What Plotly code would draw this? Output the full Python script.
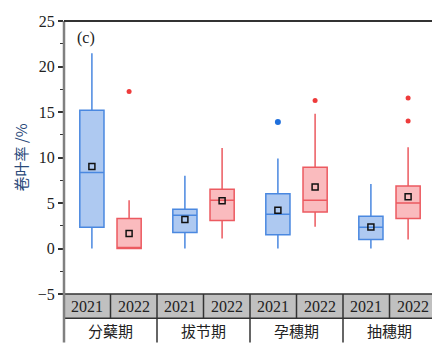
import plotly.graph_objects as go

stages = ["分蘖期", "拔节期", "孕穗期", "抽穗期"]
years = ["2021", "2022"]

# box statistics per stage (order follows stages)
q1_2021 = [2.33, 1.76, 1.52, 0.98]
med_2021 = [8.35, 3.65, 3.76, 2.33]
q3_2021 = [15.2, 4.3, 6.03, 3.55]
lo_2021 = [0.0, 0.0, 0.0, 0.0]
hi_2021 = [21.45, 8.0, 9.88, 7.1]
mean_2021 = [9.0, 3.2, 4.19, 2.37]

q1_2022 = [0.0, 3.08, 4.0, 3.3]
med_2022 = [0.0, 5.29, 5.3, 5.0]
q3_2022 = [3.3, 6.5, 8.92, 6.86]
lo_2022 = [0.0, 1.09, 2.4, 0.98]
hi_2022 = [5.3, 11.05, 14.8, 11.13]
mean_2022 = [1.65, 5.25, 6.75, 5.68]

out_2021_x = [2]
out_2021_y = [13.9]
out_2022_x = [0, 2, 3, 3]
out_2022_y = [17.25, 16.26, 16.54, 14.0]

OFF = 0.2
BW = 0.26

blue_fill = "rgba(120,165,232,0.6)"
blue_line = "#4a88e0"
red_fill = "rgba(248,150,155,0.65)"
red_line = "#ec5a60"

fig = go.Figure()

x21 = [i - OFF for i in range(len(stages))]
x22 = [i + OFF for i in range(len(stages))]

fig.add_trace(go.Box(x=x21, q1=q1_2021, median=med_2021, q3=q3_2021,
                     lowerfence=lo_2021, upperfence=hi_2021,
                     width=BW, whiskerwidth=0, boxpoints=False,
                     fillcolor=blue_fill, line=dict(color=blue_line, width=1.5),
                     showlegend=False, hoverinfo="skip"))
fig.add_trace(go.Box(x=x22, q1=q1_2022, median=med_2022, q3=q3_2022,
                     lowerfence=lo_2022, upperfence=hi_2022,
                     width=BW, whiskerwidth=0, boxpoints=False,
                     fillcolor=red_fill, line=dict(color=red_line, width=1.5),
                     showlegend=False, hoverinfo="skip"))

fig.add_trace(go.Scatter(x=[x - OFF for x in out_2021_x], y=out_2021_y, mode="markers",
                         marker=dict(color="#1f6fdc", size=6, symbol="circle"),
                         showlegend=False))
fig.add_trace(go.Scatter(x=[x + OFF for x in out_2022_x], y=out_2022_y, mode="markers",
                         marker=dict(color="#ee3b3b", size=5, symbol="circle"),
                         showlegend=False))

fig.add_trace(go.Scatter(x=x21 + x22, y=mean_2021 + mean_2022, mode="markers",
                         marker=dict(color="#111", size=6, symbol="square-open",
                                     line=dict(color="#111", width=1.5)),
                         showlegend=False))

PH = 281.0
band = 25.0 / PH
row2 = 50.0 / PH

shapes = []
shapes.append(dict(type="rect", xref="paper", yref="paper", x0=0, x1=1, y0=-band, y1=0,
                   fillcolor="#c0c0c0", line=dict(color="#333", width=1.5), layer="below"))
for k in range(1, 8):
    shapes.append(dict(type="line", xref="paper", yref="paper", x0=k / 8, x1=k / 8,
                       y0=-band, y1=0, line=dict(color="#333", width=1.5)))
for k in range(1, 4):
    shapes.append(dict(type="line", xref="paper", yref="paper", x0=k / 4, x1=k / 4,
                       y0=-row2, y1=-band, line=dict(color="#333", width=1.5)))
shapes.append(dict(type="line", xref="paper", yref="paper", x0=0, x1=0, y0=-row2, y1=1,
                   line=dict(color="#808080", width=2.5)))
shapes.append(dict(type="line", xref="paper", yref="paper", x0=1, x1=1, y0=-row2, y1=1,
                   line=dict(color="#333", width=1.5)))
shapes.append(dict(type="line", xref="paper", yref="paper", x0=0, x1=1, y0=1, y1=1,
                   line=dict(color="#333", width=2)))

annotations = []
for g, st in enumerate(stages):
    for j, yr in enumerate(years):
        annotations.append(dict(xref="paper", yref="paper", x=(2 * g + j + 0.5) / 8, y=-band / 2,
                                text=yr, showarrow=False, xanchor="center", yanchor="middle",
                                font=dict(family="Liberation Serif, DejaVu Serif, serif", size=16, color="#222")))
    annotations.append(dict(xref="paper", yref="paper", x=(g + 0.5) / 4, y=-(band + row2) / 2,
                            text=st, showarrow=False, xanchor="center", yanchor="middle",
                            font=dict(family="Noto Sans CJK SC", size=15, color="#222")))
annotations.append(dict(xref="paper", yref="paper", x=22 / 372, y=1 - 17 / PH, text="(c)",
                        showarrow=False, xanchor="center", yanchor="middle",
                        font=dict(family="Liberation Serif, DejaVu Serif, serif", size=16, color="#222")))

fig.update_layout(
    width=440, height=360,
    margin=dict(l=56, r=12, t=5, b=74),
    paper_bgcolor="white", plot_bgcolor="white",
    shapes=shapes, annotations=annotations,
    xaxis=dict(range=[-0.5, 3.5], showticklabels=False, showgrid=False, zeroline=False,
               showline=False, ticks=""),
    yaxis=dict(range=[-5, 25], tickvals=[-5, 0, 5, 10, 15, 20, 25],
               ticktext=["\u22125", "0", "5", "10", "15", "20", "25"],
               ticklabeloverflow="allow",
               showgrid=False, zeroline=False, showline=False,
               ticks="outside", ticklen=5, tickwidth=1.5, tickcolor="#333",
               minor=dict(dtick=2.5, ticks="outside", ticklen=3, tickcolor="#333", tickwidth=1),
               tickfont=dict(family="Liberation Serif, DejaVu Serif, serif", size=16, color="#222"),
               title=dict(text="卷叶率 /%", font=dict(family="Noto Sans CJK SC", size=15, color="#2a4a7a"),
                          standoff=6)),
)

fig.write_html("out.html")
